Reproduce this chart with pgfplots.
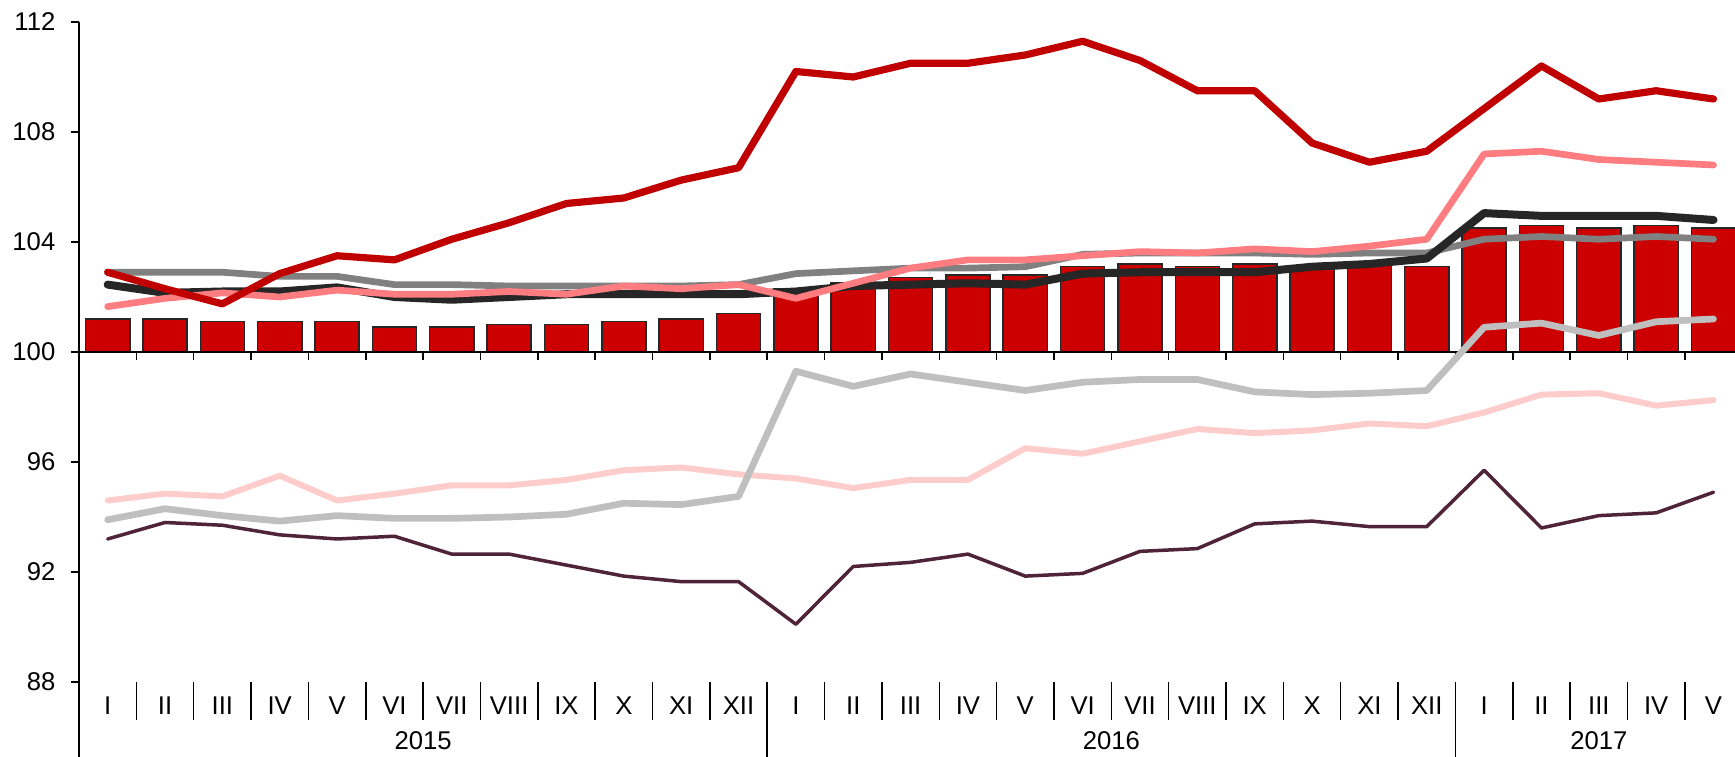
\documentclass[border=0pt]{standalone}
\usepackage{fontspec}
\setmainfont{Liberation Sans}
\usepackage{pgfplots}
\usepackage{pgfplotstable}
\pgfplotsset{compat=1.18}
\usetikzlibrary{calc}

\definecolor{BarRed}{HTML}{CC0000}
\definecolor{DarkRed}{HTML}{C00000}
\definecolor{Salmon}{HTML}{FF7C80}
\definecolor{Coal}{HTML}{262626}
\definecolor{MidGray}{HTML}{808080}
\definecolor{LightGray}{HTML}{BFBFBF}
\definecolor{Blush}{HTML}{FFCCCC}
\definecolor{Maroon}{HTML}{4F2338}

% i = month index (2015 I .. 2017 V)
\pgfplotstableread{
i  bar   red   salm  blk   gray  lgray pink  mar
0  101.2 102.9 101.65 102.45 102.9 93.9  94.6  93.2
1  101.2 102.3 101.95 102.15 102.9 94.3  94.85 93.8
2  101.1 101.75 102.15 102.2 102.9 94.05 94.75 93.7
3  101.1 102.85 102.0 102.2  102.75 93.85 95.5 93.35
4  101.1 103.5 102.25 102.35 102.75 94.05 94.6 93.2
5  100.9 103.35 102.1 102.0  102.45 93.95 94.85 93.3
6  100.9 104.1 102.1  101.9  102.45 93.95 95.15 92.65
7  101.0 104.7 102.2  102.0  102.4 94.0  95.15 92.65
8  101.0 105.4 102.1  102.1  102.4 94.1  95.35 92.25
9  101.1 105.6 102.4  102.1  102.4 94.5  95.7  91.85
10 101.2 106.25 102.3 102.1  102.4 94.45 95.8  91.65
11 101.4 106.7 102.45 102.1  102.45 94.75 95.55 91.65
12 102.3 110.2 101.95 102.2  102.85 99.3 95.4  90.1
13 102.5 110.0 102.5  102.4  102.95 98.75 95.05 92.2
14 102.7 110.5 103.05 102.45 103.05 99.2 95.35 92.35
15 102.8 110.5 103.35 102.5  103.05 98.9 95.35 92.65
16 102.8 110.8 103.35 102.45 103.1 98.6  96.5  91.85
17 103.1 111.3 103.5  102.85 103.55 98.9 96.3  91.95
18 103.2 110.6 103.65 102.9  103.6 99.0  96.75 92.75
19 103.1 109.5 103.6  102.9  103.6 99.0  97.2  92.85
20 103.2 109.5 103.75 102.9  103.6 98.55 97.05 93.75
21 103.1 107.6 103.65 103.1  103.55 98.45 97.15 93.85
22 103.2 106.9 103.85 103.2  103.6 98.5  97.4  93.65
23 103.1 107.3 104.1  103.4  103.6 98.6  97.3  93.65
24 104.5 108.85 107.2 105.05 104.1 100.9 97.8  95.7
25 104.6 110.4 107.3  104.95 104.2 101.05 98.45 93.6
26 104.5 109.2 107.0  104.95 104.1 100.6 98.5  94.05
27 104.6 109.5 106.9  104.95 104.2 101.1 98.05 94.15
28 104.5 109.2 106.8  104.8  104.1 101.2 98.25 94.9
}\idx

\begin{document}
\begin{tikzpicture}[font=\fontsize{7.3}{8.8}\selectfont]
\pgfplotsset{
  frame/.style={
    width=165.6mm, height=66mm, scale only axis,
    xmin=-0.5, xmax=28.375,
  },
}
% bars, measured from 100
\begin{axis}[frame, ymin=-12, ymax=12, hide axis,
  ybar, bar width=0.77, bar shift=0pt]
\addplot[fill=BarRed, draw=black!85, line width=0.15mm]
  table[x=i, y expr=\thisrow{bar}-100] {\idx};
\end{axis}

\begin{axis}[frame, ymin=88, ymax=112, clip=false,
  axis line style={draw=none},
  ytick={88,92,...,112}, ytick pos=left,
  tick align=outside, major tick length=0.8mm,
  ytick style={black, line width=0.15mm},
  xtick={0,...,28}, xtick pos=bottom, xtick style={draw=none},
  xticklabels={I,II,III,IV,V,VI,VII,VIII,IX,X,XI,XII,I,II,III,IV,V,VI,VII,VIII,IX,X,XI,XII,I,II,III,IV,V},
  xticklabel style={anchor=center, inner sep=0pt, yshift=-1.6mm},
  yticklabel style={anchor=east, inner sep=0pt, xshift=-1.5mm},
  /pgf/number format/assume math mode=true,
  every axis plot/.append style={line join=round, line cap=round, mark=none},
]
\draw[line width=0.15mm] (axis cs:-0.5,100) -- (axis cs:28.375,100);
\pgfplotsinvokeforeach{0.5,1.5,...,27.5}{
  \draw[line width=0.15mm] (axis cs:#1,100) -- (axis cs:#1,99.71);
  \draw[line width=0.15mm] (axis cs:#1,88) -- (axis cs:#1,86.6);
}
\draw[line width=0.15mm] (axis cs:11.5,88) -- (axis cs:11.5,85.2);
\draw[line width=0.15mm] (axis cs:23.5,88) -- (axis cs:23.5,85.2);
\draw[line width=0.15mm] (axis cs:-0.5,112) -- (axis cs:-0.5,85.2);
\node at (axis cs:5.5,85.87) {2015};
\node at (axis cs:17.5,85.87) {2016};
\node at (axis cs:26,85.87) {2017};

\addplot[Maroon, line width=0.35mm] table[x=i, y=mar] {\idx};
\addplot[Blush, line width=0.6mm] table[x=i, y=pink] {\idx};
\addplot[LightGray, line width=0.67mm] table[x=i, y=lgray] {\idx};
\addplot[MidGray, line width=0.67mm] table[x=i, y=gray] {\idx};
\addplot[Coal, line width=0.8mm] table[x=i, y=blk] {\idx};
\addplot[Salmon, line width=0.67mm] table[x=i, y=salm] {\idx};
\addplot[DarkRed, line width=0.72mm] table[x=i, y=red] {\idx};
\end{axis}
\pgfresetboundingbox
\path ($(current axis.south west)+(-7.9mm,-7.5mm)$) rectangle ($(current axis.north east)+(0,2.2mm)$);
\end{tikzpicture}
\end{document}
